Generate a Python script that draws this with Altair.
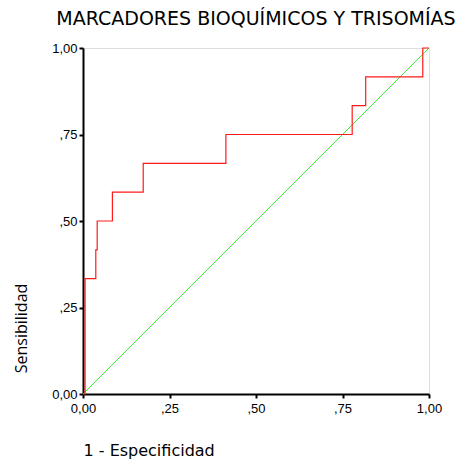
import altair as alt
import pandas as pd

# ROC curve corner points (1 - specificity, sensitivity)
fpr = [0.0, 0.006, 0.037, 0.041, 0.085, 0.174, 0.413, 0.778, 0.817, 0.982, 1.0]
tpr = [0.0, 0.3333, 0.4167, 0.5, 0.5833, 0.6667, 0.75, 0.8333, 0.9167, 1.0, 1.0]

# reference diagonal
diag_x = [0.0, 1.0]
diag_y = [0.0, 1.0]

tick_values = [0.0, 0.25, 0.5, 0.75, 1.0]
tick_labels = ["0,00", ",25", ",50", ",75", "1,00"]

roc = pd.DataFrame({"fpr": fpr, "tpr": tpr})
diag = pd.DataFrame({"fpr": diag_x, "tpr": diag_y})

# map tick values to their comma-decimal labels
label_expr = " : ".join(
    f"datum.value == {v} ? '{l}'" for v, l in zip(tick_values[:-1], tick_labels[:-1])
) + f" : '{tick_labels[-1]}'"

common_axis = dict(
    values=tick_values, labelExpr=label_expr, grid=False,
    tickSize=4, tickWidth=2, labelFlush=False, labelOverlap=False,
    domainWidth=2, domainColor="black", tickColor="black",
    labelFont="Liberation Sans", labelFontSize=13, labelColor="black",
    titleFontWeight="normal", titleColor="black",
)

x_enc = alt.X(
    "fpr:Q",
    scale=alt.Scale(domain=[0, 1], nice=False, zero=False),
    axis=alt.Axis(
        title="1 - Especificidad", titleX=0, titleY=61,
        titleAlign="left", titleBaseline="alphabetic",
        titleFont="DejaVu Sans", titleFontSize=16, labelPadding=4,
        **common_axis,
    ),
)
y_enc = alt.Y(
    "tpr:Q",
    scale=alt.Scale(domain=[0, 1], nice=False, zero=False),
    axis=alt.Axis(
        title="Sensibilidad", titleX=-62, titleY=280, titleAngle=-90,
        titleAlign="center", titleBaseline="middle",
        titleFont="Open Sans", titleFontSize=16, labelPadding=2,
        **common_axis,
    ),
)

diag_line = alt.Chart(diag).mark_line(color="#33ee33", strokeWidth=1).encode(x=x_enc, y=y_enc)
roc_line = alt.Chart(roc).mark_line(color="#ff1a1a", strokeWidth=1.2, interpolate="step-after").encode(
    x="fpr:Q", y="tpr:Q"
)

chart = (
    alt.layer(diag_line, roc_line)
    .properties(
        width=346,
        height=346,
        autosize=alt.AutoSizeParams(type="none"),
        padding={"left": 83, "top": 48, "right": 32, "bottom": 65},
        title=alt.TitleParams(
            "MARCADORES BIOQUÍMICOS Y TRISOMÍAS",
            font="DejaVu Sans", fontSize=19, fontWeight="normal", color="black",
            anchor="middle", offset=-2, baseline="alphabetic", frame="group",
        ),
    )
    .configure_view(stroke="black", strokeWidth=1)
    .configure(background="white")
)

chart.save("out.html", embed_options={"renderer": "svg", "actions": False})
